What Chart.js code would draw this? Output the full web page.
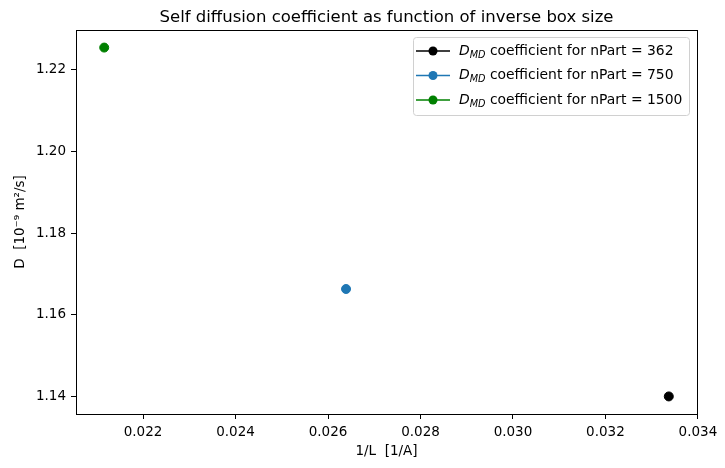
<!DOCTYPE html>
<html>
<head>
<meta charset="utf-8">
<script src="https://cdn.jsdelivr.net/npm/chart.js@4/dist/chart.umd.min.js"></script>
<style>
  html,body{margin:0;padding:0;background:#fff}
  #wrap{width:725px;height:468px}
</style>
</head>
<body>
<div id="wrap"><canvas id="c" width="725" height="468"></canvas></div>
<script>
// data
const nParts   = [362, 750, 1500];
const invL     = [0.03337, 0.02639, 0.02116];   // 1/L [1/A]
const diffD    = [1.1400, 1.1663, 1.2254];      // D [1e-9 m2/s]
const colors   = ['#000000', '#1f77b4', '#008000'];
const xTicks   = [0.022, 0.024, 0.026, 0.028, 0.030, 0.032, 0.034];
const yTicks   = [1.14, 1.16, 1.18, 1.20, 1.22];
const xLimits  = [0.02055, 0.03398];
const yLimits  = [1.1357, 1.2297];

const FONT = '"DejaVu Sans", sans-serif';

const frame = {
  id: 'frame',
  afterDraw(chart){
    const {ctx, chartArea:a} = chart;
    ctx.save();
    ctx.strokeStyle = '#000'; ctx.lineWidth = 1;
    ctx.strokeRect(Math.round(a.left)+0.5, Math.round(a.top)+0.5, Math.round(a.right-a.left), Math.round(a.bottom-a.top));
    // title
    ctx.fillStyle = '#000';
    ctx.font = '16.5px ' + FONT;
    ctx.textAlign = 'center'; ctx.textBaseline = 'alphabetic';
    ctx.fillText('Self diffusion coefficient as function of inverse box size', (a.left+a.right)/2, a.top - 8);

    // legend box
    const bx = 413, by = 37, bw = 276, bh = 78;
    ctx.fillStyle = 'rgba(255,255,255,0.8)';
    ctx.strokeStyle = '#d0d0d0';
    ctx.beginPath();
    if (ctx.roundRect) ctx.roundRect(bx+0.5, by+0.5, bw, bh, 3); else ctx.rect(bx+0.5, by+0.5, bw, bh);
    ctx.fill(); ctx.stroke();
    nParts.forEach((n, i) => {
      const y = by + 14 + i*24.5;
      ctx.strokeStyle = colors[i]; ctx.fillStyle = colors[i]; ctx.lineWidth = 1.5;
      ctx.beginPath(); ctx.moveTo(bx+3, y); ctx.lineTo(bx+37, y); ctx.stroke();
      ctx.beginPath(); ctx.arc(bx+20, y, 4.5, 0, Math.PI*2); ctx.fill();
      ctx.fillStyle = '#000';
      ctx.textAlign = 'left'; ctx.textBaseline = 'middle';
      let x = bx + 46;
      ctx.font = 'italic 13.9px ' + FONT;
      ctx.fillText('D', x, y); x += ctx.measureText('D').width;
      ctx.font = 'italic 9.7px ' + FONT;
      ctx.fillText('MD', x, y + 4); x += ctx.measureText('MD').width;
      ctx.font = '13.9px ' + FONT;
      ctx.fillText(' coefficient for nPart = ' + n, x, y);
    });
    ctx.restore();
  }
};

new Chart(document.getElementById('c'), {
  type: 'scatter',
  data: {
    datasets: nParts.map((n, i) => ({
      label: 'D_MD coefficient for nPart = ' + n,
      data: [{x: invL[i], y: diffD[i]}],
      backgroundColor: colors[i],
      borderColor: colors[i],
      pointRadius: 4.5,
      pointHoverRadius: 4.5,
      showLine: true
    }))
  },
  options: {
    responsive: false,
    animation: false,
    layout: {padding: {top: 30, right: 28, left: 0, bottom: 0}},
    plugins: {legend: {display: false}, title: {display: false}, tooltip: {enabled: false}},
    scales: {
      x: {
        type: 'linear', min: xLimits[0], max: xLimits[1],
        afterBuildTicks(s){ s.ticks = xTicks.map(v => ({value: v})); },
        afterFit(s){ s.height = 54; },
        border: {display: true, color: '#000'},
        grid: {display: true, drawOnChartArea: false, drawTicks: true, tickLength: 5, color: '#000'},
        ticks: {color: '#000', font: {family: FONT, size: 13.5}, padding: 5, maxRotation: 0,
                callback: v => v.toFixed(3)},
        title: {display: true, text: '1/L  [1/A]', color: '#000', font: {family: FONT, size: 13.5}, padding: {top: 0, bottom: 8}}
      },
      y: {
        type: 'linear', min: yLimits[0], max: yLimits[1],
        afterBuildTicks(s){ s.ticks = yTicks.map(v => ({value: v})); },
        afterFit(s){ s.width = 76; },
        border: {display: true, color: '#000'},
        grid: {display: true, drawOnChartArea: false, drawTicks: true, tickLength: 5, color: '#000'},
        ticks: {color: '#000', font: {family: FONT, size: 13.5}, padding: 5,
                callback: v => v.toFixed(2)},
        title: {display: true, text: 'D  [10⁻⁹ m²/s]', color: '#000', font: {family: FONT, size: 13.5}, padding: {top: 12, bottom: 0}}
      }
    }
  },
  plugins: [frame]
});
</script>
</body>
</html>
